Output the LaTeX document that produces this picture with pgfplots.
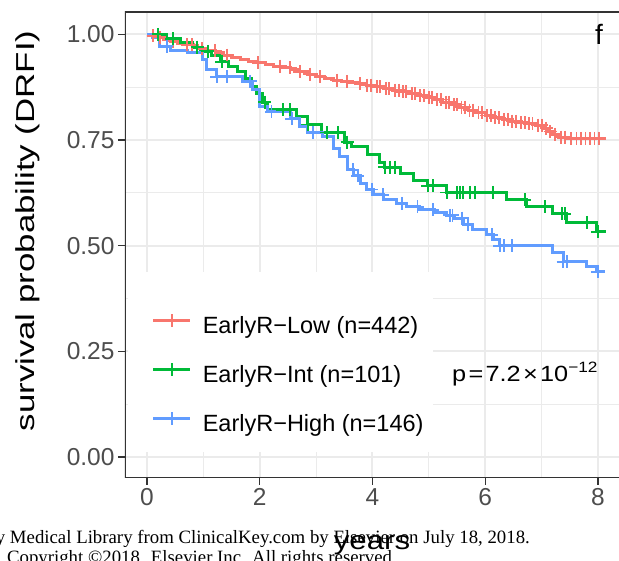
\documentclass[border=0pt]{standalone}
\usepackage{pgfplots}
\pgfplotsset{compat=1.18}
\usepackage{graphicx}
\usepackage{fontspec}
\setmainfont{Liberation Sans}
\newfontfamily\wm{Liberation Serif}
\definecolor{cLow}{HTML}{F8766D}
\definecolor{cInt}{HTML}{00BA38}
\definecolor{cHigh}{HTML}{619CFF}
\definecolor{gridc}{HTML}{EBEBEB}
\definecolor{c20}{HTML}{333333}
\definecolor{c30}{HTML}{4D4D4D}
\begin{document}
\begin{tikzpicture}
\useasboundingbox (0pt,0pt) rectangle (619pt,561pt);
\clip (0pt,0pt) rectangle (619pt,561pt);
% watermark
\node[anchor=base east, inner sep=0pt, font=\wm\fontsize{18.8}{18.8}\selectfont] at (530pt,17.5pt) {y Medical Library from ClinicalKey.com by Elsevier on July 18, 2018.};
\node[anchor=base east, inner sep=0pt, font=\wm\fontsize{18.8}{18.8}\selectfont] at (397pt,-2.7pt) {n. Copyright ©2018. Elsevier Inc. All rights reserved.};
\begin{axis}[
  at={(125pt,83pt)}, anchor=south west,
  scale only axis, width=494pt, height=466pt,
  xmin=-0.39, xmax=8.373, ymin=-0.0497, ymax=1.053,
  axis line style={draw=none},
  tick align=outside, tick pos=left,
  major tick length=7pt, minor tick length=0pt,
  major tick style={color=c20, line width=1.2pt},
  xtick={0,2,4,6,8}, ytick={0,0.25,0.5,0.75,1},
  minor xtick={1,3,5,7}, minor ytick={0.125,0.375,0.625,0.875},
  grid=both,
  major grid style={color=gridc, line width=2pt},
  minor grid style={color=gridc, line width=1pt},
  /pgf/number format/assume math mode=true,
  yticklabel style={/pgf/number format/fixed, /pgf/number format/fixed zerofill, /pgf/number format/precision=2},
  ticklabel style={font=\fontsize{24.5}{24.5}\selectfont, color=c30},
  legend cell align=left,
  legend style={at={(axis cs:0.0887,0.3408)}, anchor=north west, draw=none, fill=none,
    inner sep=0pt, row sep=23.5pt, column sep=11pt,
    nodes={inner sep=0pt, text height=17pt, text depth=5pt, font=\fontsize{23.5}{23.5}\selectfont}},
]
\fill[white] (axis cs:-0.337,0.0118) rectangle (axis cs:5.073,0.4379);

% EarlyR-Low
\addplot[const plot, color=cLow, line width=3pt,
  legend image code/.code={\draw[cLow,line width=2.6pt] (0pt,7.5pt) -- (37pt,7.5pt); \draw[cLow,line width=1.1pt] (18.5pt,1pt) -- (18.5pt,14pt);}]
coordinates {
(0,1.0)(0.08,0.997)(0.18,0.993)(0.3,0.989)(0.42,0.984)(0.55,0.979)(0.68,0.975)(0.82,0.970)(0.95,0.966)
(1.08,0.961)(1.22,0.956)(1.36,0.951)(1.5,0.946)(1.65,0.941)(1.8,0.937)(1.95,0.933)(2.1,0.929)(2.25,0.925)
(2.4,0.921)(2.55,0.916)(2.7,0.911)(2.85,0.906)(3.0,0.900)(3.15,0.896)(3.3,0.892)(3.45,0.889)(3.6,0.886)
(3.75,0.883)(3.9,0.880)(4.05,0.876)(4.2,0.872)(4.35,0.868)(4.5,0.864)(4.65,0.859)(4.8,0.855)(4.95,0.851)
(5.1,0.846)(5.25,0.840)(5.4,0.834)(5.55,0.828)(5.7,0.821)(5.85,0.814)(6.0,0.808)(6.15,0.803)(6.3,0.799)
(6.45,0.795)(6.6,0.791)(6.75,0.788)(6.9,0.785)(7.05,0.778)(7.12,0.770)(7.2,0.764)(7.3,0.757)(7.45,0.754)
(8.15,0.754)};
\addlegendentry{EarlyR−Low (n=442)}

% EarlyR-Int
\addplot[const plot, color=cInt, line width=3pt,
  legend image code/.code={\draw[cInt,line width=2.6pt] (0pt,7.5pt) -- (37pt,7.5pt); \draw[cInt,line width=1.1pt] (18.5pt,1pt) -- (18.5pt,14pt);}]
coordinates {
(0,1.0)(0.35,0.99)(0.6,0.98)(0.8,0.97)(0.95,0.96)(1.15,0.95)(1.3,0.935)(1.45,0.925)(1.6,0.912)(1.75,0.895)
(1.85,0.877)(1.95,0.86)(2.05,0.84)(2.13,0.822)(2.65,0.805)(2.85,0.787)(3.1,0.768)(3.5,0.745)(3.62,0.735)
(3.92,0.715)(4.13,0.698)(4.22,0.686)(4.49,0.672)(4.72,0.655)(4.98,0.642)(5.32,0.626)(6.37,0.609)(6.74,0.592)
(7.2,0.575)(7.45,0.555)(7.98,0.533)(8.15,0.533)};
\addlegendentry{EarlyR−Int (n=101)}

% EarlyR-High
\addplot[const plot, color=cHigh, line width=3pt,
  legend image code/.code={\draw[cHigh,line width=2.6pt] (0pt,7.5pt) -- (37pt,7.5pt); \draw[cHigh,line width=1.1pt] (18.5pt,1pt) -- (18.5pt,14pt);}]
coordinates {
(0,1.0)(0.1,0.993)(0.23,0.972)(0.41,0.962)(0.71,0.957)(0.99,0.94)(1.06,0.917)(1.24,0.90)(1.70,0.889)
(1.88,0.87)(2.0,0.829)(2.13,0.817)(2.54,0.80)(2.71,0.782)(2.84,0.768)(3.12,0.758)(3.30,0.73)(3.42,0.71)
(3.55,0.68)(3.66,0.665)(3.78,0.648)(3.9,0.633)(4.01,0.62)(4.2,0.61)(4.43,0.60)(4.6,0.592)(4.84,0.585)
(5.1,0.578)(5.32,0.572)(5.45,0.565)(5.61,0.55)(5.78,0.538)(6.03,0.526)(6.15,0.514)(6.26,0.50)(7.2,0.483)
(7.38,0.462)(7.8,0.45)(7.98,0.438)(8.12,0.438)};
\addlegendentry{EarlyR−High (n=146)}

% censor marks
\addplot[forget plot, only marks, mark=+, mark size=6.5pt, color=cLow, mark options={line width=1.8pt}]
coordinates {
(0.11,0.997)(0.23,0.993)(0.46,0.984)(0.71,0.975)(0.80,0.975)(0.89,0.970)(0.98,0.966)(1.21,0.961)(1.42,0.951)
(1.97,0.933)(2.36,0.925)(2.54,0.921)(2.71,0.911)(2.89,0.906)(3.07,0.900)(3.37,0.892)(3.55,0.889)(3.78,0.883)
(3.9,0.880)(3.97,0.880)(4.08,0.876)(4.14,0.876)(4.24,0.872)(4.3,0.872)(4.4,0.868)(4.47,0.868)(4.54,0.864)
(4.6,0.864)(4.7,0.859)(4.76,0.859)(4.85,0.855)(4.92,0.855)(5.0,0.851)(5.05,0.851)(5.15,0.846)(5.22,0.846)
(5.3,0.840)(5.36,0.840)(5.45,0.834)(5.5,0.834)(5.58,0.828)(5.64,0.828)(5.72,0.821)(5.78,0.821)(5.88,0.814)
(5.94,0.814)(6.03,0.808)(6.1,0.808)(6.18,0.803)(6.25,0.803)(6.33,0.799)(6.4,0.799)(6.48,0.795)(6.55,0.795)
(6.63,0.791)(6.7,0.791)(6.78,0.788)(6.84,0.788)(6.93,0.785)(7.0,0.785)(7.08,0.778)(7.15,0.770)(7.24,0.764)
(7.34,0.757)(7.42,0.757)(7.52,0.754)(7.62,0.754)(7.7,0.754)(7.78,0.754)(7.86,0.754)(7.94,0.754)(8.02,0.754)};
\addplot[forget plot, only marks, mark=+, mark size=6.5pt, color=cInt, mark options={line width=1.8pt}]
coordinates {
(0.2,1.0)(0.46,0.99)(0.89,0.97)(1.08,0.96)(1.33,0.935)(2.09,0.84)(2.41,0.822)(2.54,0.822)(2.85,0.787)
(3.19,0.768)(3.39,0.768)(3.55,0.745)(4.22,0.686)(4.31,0.686)(4.40,0.686)(4.98,0.642)(5.07,0.642)(5.32,0.626)
(5.5,0.626)(5.55,0.626)(5.6,0.626)(5.73,0.626)(5.82,0.626)(6.14,0.626)(6.7,0.609)(7.06,0.592)(7.36,0.575)
(7.41,0.575)(7.8,0.555)(8.0,0.533)};
\addplot[forget plot, only marks, mark=+, mark size=6.5pt, color=cHigh, mark options={line width=1.8pt}]
coordinates {
(0.35,0.972)(1.24,0.90)(1.42,0.90)(1.83,0.889)(2.21,0.817)(2.57,0.80)(2.94,0.768)(3.65,0.68)(3.74,0.665)
(3.99,0.633)(4.18,0.62)(4.52,0.60)(4.8,0.592)(5.07,0.585)(5.37,0.572)(5.42,0.572)(5.59,0.565)(5.69,0.55)
(6.12,0.526)(6.26,0.50)(6.33,0.50)(6.47,0.50)(7.38,0.462)(7.45,0.462)(8.0,0.438)};

\node[anchor=base west, inner sep=0pt] at (axis cs:5.41,0.1775)
  {\scalebox{1.15}[1]{\fontsize{22}{22}\selectfont p\kern2pt=\kern2pt7.2\kern2pt×\kern2pt10\raisebox{9pt}{\fontsize{15}{15}\selectfont −12}}};
\node[anchor=base, inner sep=0pt, font=\fontsize{28}{28}\selectfont] at (axis cs:8.02,0.975) {f};
\draw[c20, line width=1.3pt] (rel axis cs:0,0) -- (rel axis cs:1,0);
\draw[c20, line width=1.3pt] (rel axis cs:0,0) -- (rel axis cs:0,1) -- (rel axis cs:1,1);
\end{axis}
\node[rotate=90, inner sep=0pt] at (28pt,330pt) {\scalebox{1.34}[1]{\fontsize{26}{26}\selectfont survival probability (DRFI)}};
\node[anchor=base, inner sep=0pt] at (372pt,11pt) {\scalebox{1.2}[1]{\fontsize{26}{26}\selectfont years}};
\end{tikzpicture}
\end{document}
